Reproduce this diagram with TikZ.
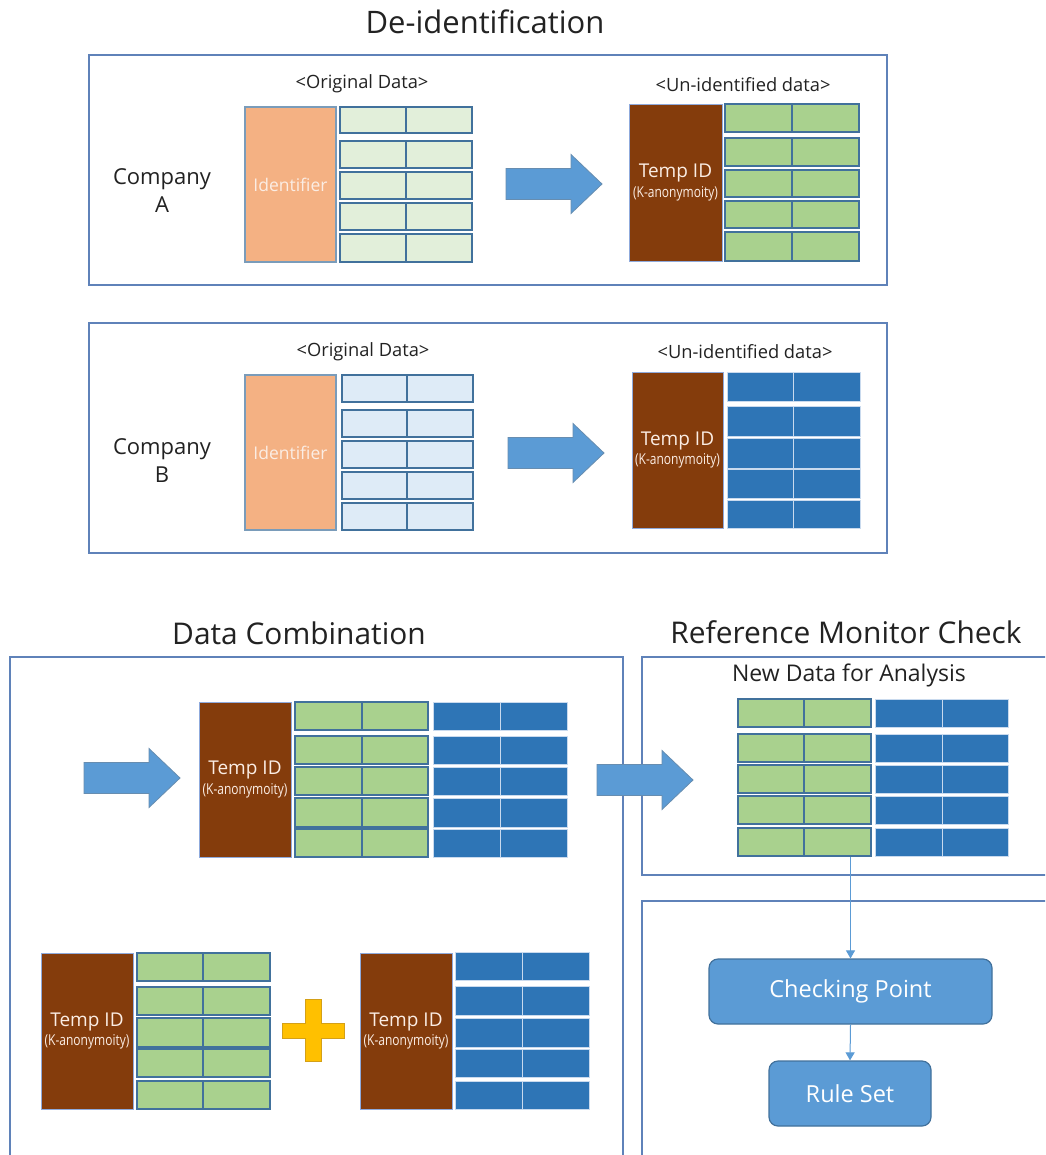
\documentclass[tikz,border=0pt]{standalone}
\usepackage{fontspec}
\setmainfont{Open Sans}
\newfontfamily\narrowfont[FakeStretch=0.8]{Open Sans}
\usetikzlibrary{fit,arrows.meta}

\definecolor{framecol}{RGB}{95,130,185}
\definecolor{cellline}{HTML}{41719C}
\definecolor{templine}{HTML}{8FAADC}
\definecolor{idfill}{HTML}{F4B183}
\definecolor{tempfill}{HTML}{843C0C}
\definecolor{palegreen}{HTML}{E2EFDA}
\definecolor{paleblue}{HTML}{DEEBF7}
\definecolor{greenfill}{HTML}{A9D18E}
\definecolor{bluefill}{HTML}{2E75B6}
\definecolor{blueline}{HTML}{C9DAEE}
\definecolor{arrowfill}{HTML}{5B9BD5}
\definecolor{plusfill}{HTML}{FFC000}
\definecolor{plusline}{HTML}{D4A017}
\definecolor{inktext}{HTML}{222222}
\definecolor{softwhite}{HTML}{FBEDE4}

\tikzset{
  frame/.style={draw=framecol, line width=1.5pt},
  idbox/.style={fill=idfill, draw=cellline!70, line width=1.2pt},
  tempbox/.style={fill=tempfill, draw=templine, line width=0.8pt},
  origA/.style={fill=palegreen, draw=cellline, line width=1.6pt},
  origB/.style={fill=paleblue, draw=cellline, line width=1.6pt},
  greencell/.style={fill=greenfill, draw=cellline, line width=1.6pt},
  bluecell/.style={fill=bluefill, draw=blueline, line width=1pt},
  blockarrow/.style={fill=arrowfill, draw=cellline!80, line width=0.8pt},
  title/.style={text=inktext, font=\fontsize{31}{36}\selectfont, inner sep=0pt},
  subtitle/.style={text=inktext, font=\fontsize{29.9}{36}\selectfont, inner sep=0pt},
  caption/.style={text=inktext, font=\fontsize{18.3}{22}\selectfont, inner sep=0pt},
  company/.style={text=inktext, font=\fontsize{22}{28}\selectfont, align=center, inner sep=0pt},
  idtext/.style={text=softwhite, font=\fontsize{17.5}{21}\selectfont, inner sep=0pt},
  temptext/.style={text=softwhite, font=\fontsize{19}{19.5}\selectfont, align=center, inner sep=0pt},
  stepbox/.style={fill=arrowfill, draw=cellline, line width=1.2pt, rounded corners=9pt},
  steptext/.style={text=white, font=\fontsize{23.5}{28}\selectfont, inner sep=0pt},
  conn/.style={draw=arrowfill, line width=1pt, -{Triangle[length=8pt,width=9pt]}},
}

% a block of table rows: two cells per row, rows given as top/bottom pairs
\newcommand\cellrows[6]{%
  \foreach \ya/\yb [count=\r] in {#6}{%
    \node[#2, inner sep=0pt, fit={(#3,\ya) (#4,\yb)}] (#1-\r-1) {};
    \node[#2, inner sep=0pt, fit={(#4,\ya) (#5,\yb)}] (#1-\r-2) {};
  }}
% a wide block arrow pointing right, tip at (#1,#2)
\newcommand\blockarr[2]{%
  \draw[blockarrow] (#1-96,#2-15.5) -- (#1-31,#2-15.5) -- (#1-31,#2-29.5) -- (#1,#2)
    -- (#1-31,#2+29.5) -- (#1-31,#2+15.5) -- (#1-96,#2+15.5) -- cycle;}
\newcommand\kanon{{\narrowfont\fontsize{15}{17}\selectfont (K-anonymoity)}}

\begin{document}
\begin{tikzpicture}[x=1pt, y=-1pt]
\useasboundingbox (0,0) rectangle (1045,1155);
\clip (0,0) rectangle (1045,1155);
\fill[white] (0,0) rectangle (1045,1155);

% ---------------- De-identification ----------------
\node[title] (deid) at (485,22) {De-identification};

% Company A
\draw[frame] (89,55) rectangle (887,285);
\node[company] (compA) at (162,191) {Company\\A};
\node[caption] (origAcap) at (362,84) {<Original Data>};
\node[idbox, inner sep=0pt, fit={(245,107) (336,262)}] (idA) {};
\node[idtext] (idAtxt) at (idA.center) {Identifier};
\cellrows{oA}{origA}{340}{406}{472}{107/133,141/168,172/199,203/230,234/262}
\blockarr{602}{184}
\node[caption] (unidAcap) at (743,85) {<Un-identified data>};
\node[tempbox, inner sep=0pt, fit={(629,104) (722,261)}] (tA) {};
\node[temptext] (tAtxt) at (tA.center) {Temp ID\\\kanon};
\cellrows{uA}{greencell}{725}{792}{859}{104/132,138/166,170/197,201/228,232/261}

% Company B
\draw[frame] (89,323) rectangle (887,553);
\node[company] (compB) at (162,461) {Company\\B};
\node[caption] (origBcap) at (363,352) {<Original Data>};
\node[idbox, inner sep=0pt, fit={(245,375) (336,530)}] (idB) {};
\node[idtext] (idBtxt) at (idB.center) {Identifier};
\cellrows{oB}{origB}{342}{407}{473}{375/402,410/437,441/468,472/499,503/530}
\blockarr{604}{453}
\node[caption] (unidBcap) at (745,352) {<Un-identified data>};
\node[tempbox, inner sep=0pt, fit={(632,372) (723,528)}] (tB) {};
\node[temptext] (tBtxt) at (tB.center) {Temp ID\\\kanon};
\cellrows{uB}{bluecell}{727}{793}{860}{372/401,406/436,438/468,469/498,500/528}

% ---------------- Data Combination ----------------
\node[subtitle] (combt) at (299,633) {Data Combination};
\draw[frame] (10,1170) -- (10,657) -- (623,657) -- (623,1170);
\blockarr{180}{778}
\node[tempbox, inner sep=0pt, fit={(199,702) (291,857)}] (tC) {};
\node[temptext] (tCtxt) at (tC.center) {Temp ID\\\kanon};
\cellrows{cG}{greencell}{295}{362}{428}{702/730,736/764,767/795,798/827,829/857}
\cellrows{cB}{bluecell}{433}{500}{567}{702/730,736/764,767/795,798/827,829/857}

% the two source tables joined by a plus
\node[tempbox, inner sep=0pt, fit={(41,953) (133,1109)}] (tL) {};
\node[temptext] (tLtxt) at (tL.center) {Temp ID\\\kanon};
\cellrows{lG}{greencell}{137}{203}{270}{953/981,987/1015,1018/1047,1049/1077,1081/1109}
\draw[fill=plusfill, draw=plusline, line width=0.8pt]
  (305,999) -- (321,999) -- (321,1023) -- (344,1023) -- (344,1038) -- (321,1038)
  -- (321,1061) -- (305,1061) -- (305,1038) -- (282,1038) -- (282,1023) -- (305,1023) -- cycle;
\node[tempbox, inner sep=0pt, fit={(360,953) (452,1109)}] (tR) {};
\node[temptext] (tRtxt) at (tR.center) {Temp ID\\\kanon};
\cellrows{rB}{bluecell}{455}{522}{589}{952/980,986/1015,1018/1047,1049/1077,1081/1109}

% ---------------- Reference Monitor Check ----------------
\node[subtitle] (rmct) at (846,632) {Reference Monitor Check};
\draw[frame] (1060,657) -- (642,657) -- (642,875) -- (1060,875);
\draw[frame] (1060,901) -- (642,901) -- (642,1170);
\blockarr{693}{780}
\node[text=inktext, font=\fontsize{23}{27}\selectfont, inner sep=0pt] (ndcap) at (849,675) {New Data for Analysis};
\cellrows{nG}{greencell}{738}{804}{871}{699/727,734/762,765/793,796/824,828/856}
\cellrows{nB}{bluecell}{875}{942}{1008}{699/727,734/762,765/793,796/824,828/856}

\node[stepbox, inner sep=0pt, fit={(709,959) (992,1024)}] (cp) {};
\node[steptext] (cptxt) at (cp.center) {Checking Point};
\node[stepbox, inner sep=0pt, fit={(769,1061) (931,1126)}] (rs) {};
\node[steptext] (rstxt) at (rs.center) {Rule Set};

\draw[conn] (cp.north |- nG-5-2.south) -- (cp.north);
\draw[conn] (cp.south) -- (rs.north);
\end{tikzpicture}
\end{document}
